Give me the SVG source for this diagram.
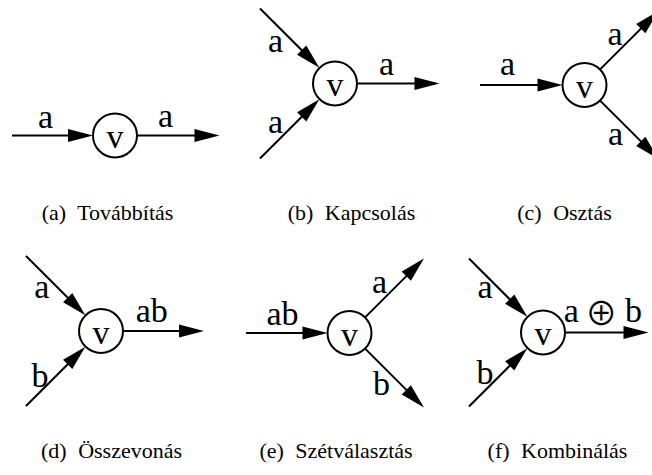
<svg xmlns="http://www.w3.org/2000/svg" width="652" height="475" viewBox="0 0 652 475">
<style>
.ln{stroke:#000;stroke-width:2;fill:none;marker-end:url(#ah)}
.nd{fill:#fff;stroke:#000;stroke-width:2}
.lb{font-size:34px;fill:#000;text-anchor:middle}
.cp{font-size:22px;fill:#000;text-anchor:middle}
.op{font-family:"Noto Sans CJK JP","DejaVu Sans",sans-serif;font-size:32px;font-weight:400}
</style>
<defs>
<marker id="ah" markerUnits="userSpaceOnUse" markerWidth="26" markerHeight="14" refX="15" refY="6.5" orient="auto" overflow="visible">
<path d="M0,0 L25,6.5 L0,13 Z" fill="#000"/>
</marker>
</defs>
<rect width="652" height="475" fill="#fff"/>
<g id="connectors">
<line class="ln" x1="12" y1="135.5" x2="83" y2="135.5"/>
<line class="ln" x1="137" y1="135.5" x2="209.5" y2="135.5"/>
<line class="ln" x1="260" y1="8.5" x2="312.3" y2="60.8"/>
<line class="ln" x1="260" y1="158.5" x2="312.3" y2="106.2"/>
<line class="ln" x1="357" y1="83.5" x2="429.5" y2="83.5"/>
<line class="ln" x1="480" y1="85" x2="552.5" y2="85"/>
<line class="ln" x1="600.1" y1="69.4" x2="651.4" y2="18.1"/>
<line class="ln" x1="600.1" y1="100.6" x2="651.4" y2="151.9"/>
<line class="ln" x1="26" y1="256" x2="78.3" y2="308.3"/>
<line class="ln" x1="26" y1="406" x2="78.3" y2="353.7"/>
<line class="ln" x1="123" y1="331" x2="194" y2="331"/>
<line class="ln" x1="246" y1="333" x2="317.5" y2="333"/>
<line class="ln" x1="365.1" y1="317.4" x2="416.9" y2="265.6"/>
<line class="ln" x1="365.1" y1="348.6" x2="416.9" y2="400.4"/>
<line class="ln" x1="469" y1="258.5" x2="520.3" y2="309.8"/>
<line class="ln" x1="469" y1="406.5" x2="520.3" y2="355.2"/>
<line class="ln" x1="565" y1="332.5" x2="638.5" y2="332.5"/>
</g>
<g font-family="'Liberation Serif', 'Times New Roman', 'DejaVu Serif', serif">
<g id="labels">
<text class="lb" x="45.5" y="128">a</text>
<text class="lb" x="165.5" y="127">a</text>
<text class="lb" x="275.5" y="52">a</text>
<text class="lb" x="275.5" y="133">a</text>
<text class="lb" x="386.5" y="75">a</text>
<text class="lb" x="507.5" y="75">a</text>
<text class="lb" x="615" y="45">a</text>
<text class="lb" x="615.5" y="145">a</text>
<text class="lb" x="41.7" y="298">a</text>
<text class="lb" x="40" y="387">b</text>
<text class="lb" x="151.7" y="322">ab</text>
<text class="lb" x="282.5" y="325">ab</text>
<text class="lb" x="379.5" y="293">a</text>
<text class="lb" x="381.5" y="395">b</text>
<text class="lb" x="485" y="298">a</text>
<text class="lb" x="485" y="384">b</text>
<text class="lb" y="322"><tspan x="575.5">a</tspan> <tspan class="op" x="605.5" y="325">⊕</tspan> <tspan x="633.5" y="322">b</tspan></text>
</g>
<g id="node-a"><circle class="nd" cx="115" cy="135.5" r="22"/><text class="lb" x="115" y="148">v</text></g>
<g id="node-b"><circle class="nd" cx="335" cy="83.5" r="22"/><text class="lb" x="335" y="96">v</text></g>
<g id="node-c"><circle class="nd" cx="584.5" cy="85" r="22"/><text class="lb" x="584.5" y="97.5">v</text></g>
<g id="node-d"><circle class="nd" cx="101" cy="331" r="22"/><text class="lb" x="101" y="343.5">v</text></g>
<g id="node-e"><circle class="nd" cx="349.5" cy="333" r="22"/><text class="lb" x="349.5" y="345.5">v</text></g>
<g id="node-f"><circle class="nd" cx="543" cy="332.5" r="22"/><text class="lb" x="543" y="345">v</text></g>
<g id="captions">
<text class="cp" x="107.5" y="220">(a) <tspan dx="6">Továbbítás</tspan></text>
<text class="cp" x="351.5" y="220">(b) <tspan dx="6">Kapcsolás</tspan></text>
<text class="cp" x="564.5" y="220">(c) <tspan dx="6">Osztás</tspan></text>
<text class="cp" x="111.5" y="458">(d) <tspan dx="6">Összevonás</tspan></text>
<text class="cp" x="336" y="458">(e) <tspan dx="6">Szétválasztás</tspan></text>
<text class="cp" x="557.5" y="458">(f) <tspan dx="6">Kombinálás</tspan></text>
</g>
</g>
</svg>
